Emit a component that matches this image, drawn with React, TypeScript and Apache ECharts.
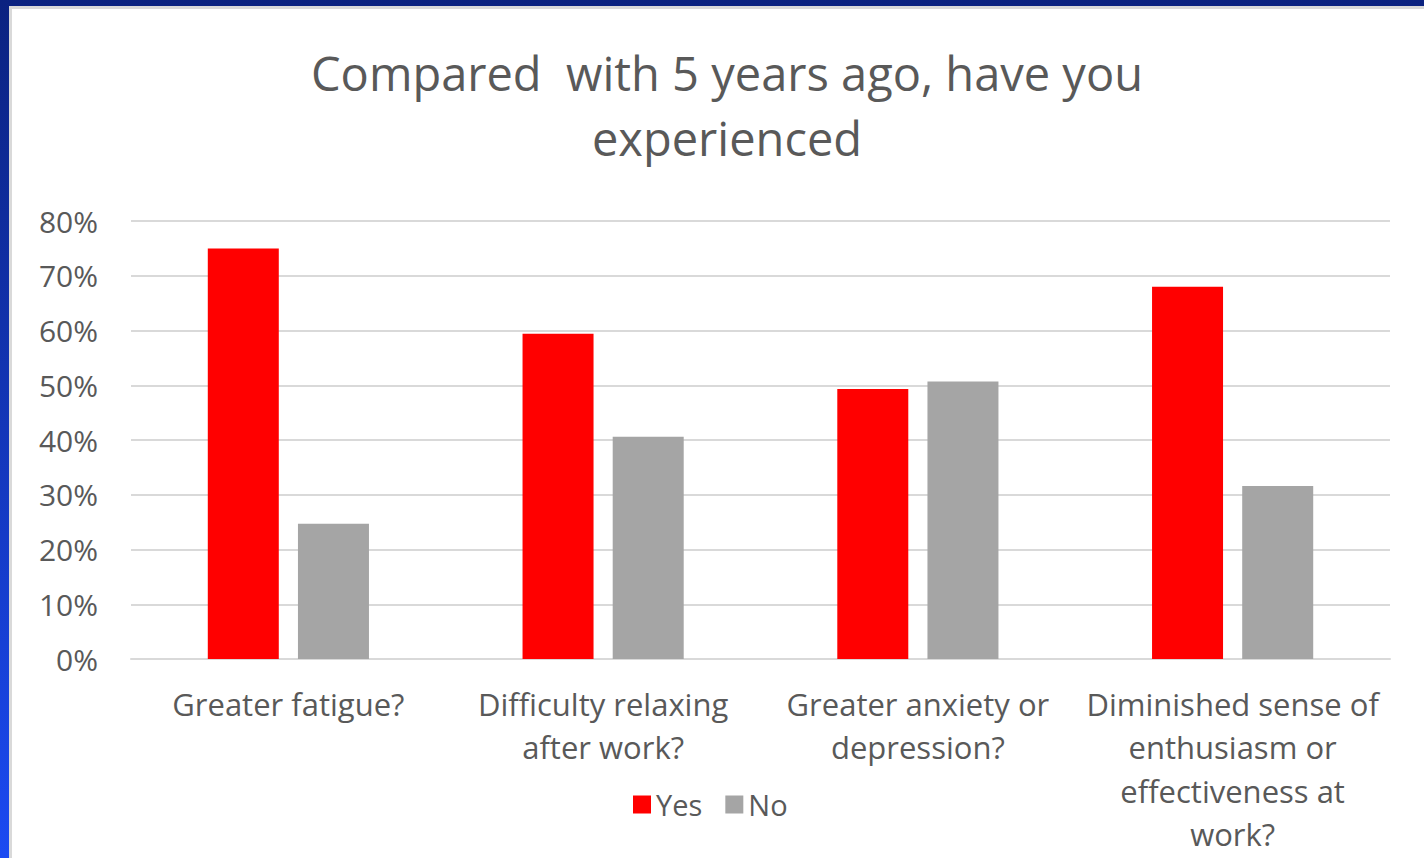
import React, { useEffect, useRef } from "react";
import * as echarts from "echarts";

const categories = [
  "Greater fatigue?",
  "Difficulty relaxing\nafter work?",
  "Greater anxiety or\ndepression?",
  "Diminished sense of\nenthusiasm or\neffectiveness at\nwork?",
];
const yesValues = [75, 59.4, 49.3, 68];
const noValues = [24.7, 40.6, 50.7, 31.6];
const seriesNames = ["Yes", "No"];
const titleText = "Compared  with 5 years ago, have you\nexperienced";

const FONT = "'Open Sans', sans-serif";
const TEXT = "#595959";

export default function App() {
  const ref = useRef<HTMLDivElement>(null);

  useEffect(() => {
    document.body.style.margin = "0";
    const chart = echarts.init(ref.current!, null, { renderer: "svg" });
    chart.setOption({
      animation: false,
      backgroundColor: "#ffffff",
      graphic: [
        {
          type: "rect",
          left: 0,
          top: 0,
          shape: { width: 1424, height: 858 },
          style: {
            fill: new echarts.graphic.LinearGradient(0, 0, 0, 1, [
              { offset: 0, color: "#0b2280" },
              { offset: 1, color: "#1b4af2" },
            ]),
          },
          z: -10,
        },
        {
          type: "rect",
          left: 9,
          top: 6,
          shape: { width: 1415, height: 852 },
          style: { fill: "#d9d9d9" },
          z: -9,
        },
        {
          type: "rect",
          left: 12,
          top: 9,
          shape: { width: 1412, height: 849 },
          style: { fill: "#ffffff" },
          z: -8,
        },
      ],
      title: {
        text: titleText,
        left: 722,
        top: 35,
        textAlign: "center",
        textStyle: {
          fontFamily: FONT,
          fontSize: 47,
          fontWeight: "normal",
          color: TEXT,
          lineHeight: 65,
        },
      },
      legend: {
        data: seriesNames,
        left: 628,
        top: 785,
        icon: "rect",
        itemWidth: 18,
        itemHeight: 18,
        itemGap: 23,
        textStyle: { fontFamily: FONT, fontSize: 29, color: TEXT },
      },
      grid: { left: 131, right: 34, top: 221, bottom: 199, containLabel: false },
      xAxis: {
        type: "category",
        data: categories,
        axisLine: { show: true, lineStyle: { color: "#d9d9d9", width: 2 } },
        axisTick: { show: false },
        axisLabel: {
          fontFamily: FONT,
          fontSize: 31,
          color: TEXT,
          lineHeight: 43.5,
          margin: 23,
          interval: 0,
        },
      },
      yAxis: {
        type: "value",
        min: 0,
        max: 80,
        interval: 10,
        axisLine: { show: false },
        axisTick: { show: false },
        splitLine: { lineStyle: { color: "#d9d9d9", width: 2 } },
        axisLabel: {
          fontFamily: FONT,
          fontSize: 30,
          color: TEXT,
          margin: 33,
          formatter: (v: number) => `${v}%`,
        },
      },
      series: [
        {
          name: seriesNames[0],
          type: "bar",
          data: yesValues,
          barWidth: 71,
          barGap: "27%",
          itemStyle: { color: "#ff0000" },
        },
        {
          name: seriesNames[1],
          type: "bar",
          data: noValues,
          barWidth: 71,
          barGap: "27%",
          itemStyle: { color: "#a5a5a5" },
        },
      ],
    });
    return () => chart.dispose();
  }, []);

  return <div ref={ref} style={{ width: 1424, height: 858 }} />;
}
